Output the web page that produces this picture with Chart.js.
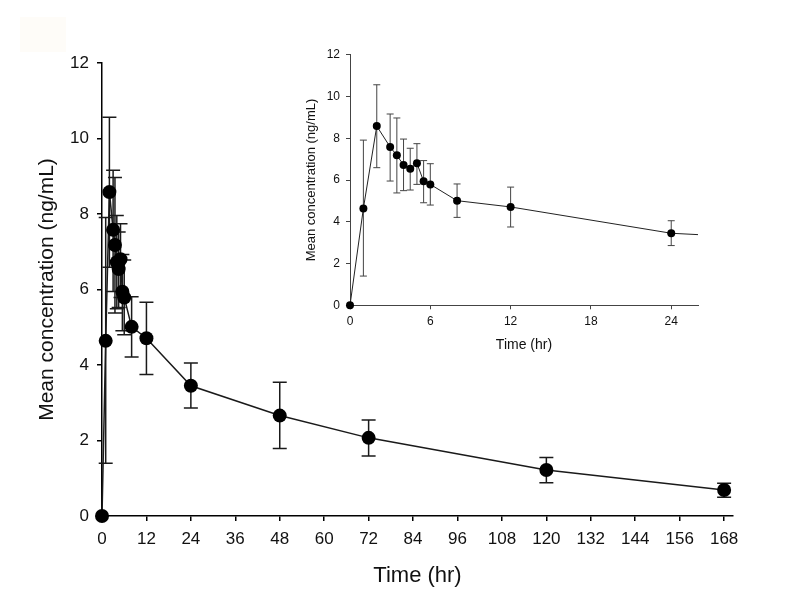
<!DOCTYPE html>
<html>
<head>
<meta charset="utf-8">
<script src="https://cdn.jsdelivr.net/npm/chart.js@4"></script>
<style>
    body { margin: 0; background: #fff; }
    #wrap { position: relative; width: 798px; height: 606px; overflow: hidden; }
    #mancha { position: absolute; left: 20px; top: 17px; width: 46px; height: 35px; background: #fefcf8; }
    #grafico_principal { position: absolute; left: 0; top: 0; }
    #grafico_inset { position: absolute; left: 290px; top: 40px; }
</style>
</head>
<body>
<div id="wrap">
    <div id="mancha"></div>
    <canvas id="grafico_principal" width="798" height="606"></canvas>
    <canvas id="grafico_inset" width="420" height="320"></canvas>
</div>
<script>
const tempos = [0, 1, 2, 3, 3.5, 4, 4.5, 5, 5.5, 6, 8, 12, 24, 48, 72, 120, 168]
const media = [0, 4.64, 8.58, 7.58, 7.18, 6.72, 6.54, 6.80, 5.94, 5.79, 5.01, 4.71, 3.45, 2.66, 2.07, 1.22, 0.69]
const superior = [0, 7.91, 10.56, 9.16, 8.97, 7.96, 7.52, 7.74, 6.93, 6.78, 5.81, 5.66, 4.05, 3.54, 2.54, 1.55, 0.87]
const inferior = [0, 1.40, 6.59, 5.95, 5.38, 5.49, 5.52, 5.79, 4.91, 4.80, 4.21, 3.75, 2.86, 1.79, 1.59, 0.88, 0.50]

const tituloX = 'Time (hr)'
const tituloY = 'Mean concentration (ng/mL)'
const fonte = "'Liberation Sans', Arial, sans-serif"

const pontos = tempos.map((t, i) => ({ x: t, y: media[i] }))

const barrasErro = {
    id: 'barrasErro',
    beforeDatasetsDraw(chart, args, opts) {
        const { ctx, scales: { x, y } } = chart
        ctx.save()
        ctx.strokeStyle = opts.color
        ctx.lineWidth = opts.width
        tempos.forEach((t, i) => {
            if (t > x.max || superior[i] === inferior[i]) return
            const px = x.getPixelForValue(t)
            const yTopo = y.getPixelForValue(superior[i])
            const yBase = y.getPixelForValue(inferior[i])
            ctx.beginPath()
            ctx.moveTo(px, yTopo)
            ctx.lineTo(px, yBase)
            ctx.moveTo(px - opts.cap, yTopo)
            ctx.lineTo(px + opts.cap, yTopo)
            ctx.moveTo(px - opts.cap, yBase)
            ctx.lineTo(px + opts.cap, yBase)
            ctx.stroke()
        })
        ctx.restore()
    }
}

function eixos(cfg) {
    return {
        x: {
            type: 'linear',
            min: 0,
            max: cfg.xMax,
            afterFit: s => { s.height = cfg.alturaX },
            border: { color: cfg.corEixo, width: cfg.borda },
            grid: { drawOnChartArea: false, color: cfg.corEixo, tickLength: cfg.tick, lineWidth: cfg.borda },
            ticks: {
                stepSize: cfg.passoX,
                includeBounds: false,
                autoSkip: false,
                maxRotation: 0,
                color: '#111',
                padding: cfg.padX,
                font: { family: fonte, size: cfg.tamTick }
            },
            title: {
                display: true,
                text: tituloX,
                color: '#111',
                padding: { top: 0, bottom: cfg.titXpad },
                font: { family: fonte, size: cfg.tamTitulo }
            }
        },
        y: {
            min: 0,
            max: 12,
            afterFit: s => { s.width = cfg.larguraY },
            border: { color: cfg.corEixo, width: cfg.borda },
            grid: { drawOnChartArea: false, color: cfg.corEixo, tickLength: cfg.tick, lineWidth: cfg.borda },
            ticks: {
                stepSize: 2,
                color: '#111',
                padding: cfg.padY,
                font: { family: fonte, size: cfg.tamTick }
            },
            title: {
                display: true,
                text: tituloY,
                color: '#111',
                padding: { top: cfg.titYpad, bottom: 0 },
                font: { family: fonte, size: cfg.tamTituloY }
            }
        }
    }
}

let graficoPrincipal = new Chart(
    document.getElementById('grafico_principal'),
    {
        type: 'line',
        data: {
            datasets: [{
                data: pontos,
                borderColor: '#1a1a1a',
                borderWidth: 1.5,
                backgroundColor: '#000',
                pointRadius: 7,
                pointBorderWidth: 0,
                tension: 0,
                clip: false
            }]
        },
        options: {
            responsive: false,
            animation: false,
            events: [],
            layout: { padding: { top: 63, right: 65, left: 0, bottom: 0 } },
            scales: eixos({
                xMax: 170.4, passoX: 12, alturaX: 90, larguraY: 102, borda: 1.5, tick: 5, corEixo: '#000',
                padX: 8, padY: 8, tamTick: 17, tamTitulo: 22, tamTituloY: 21, titXpad: 17, titYpad: 35
            }),
            plugins: {
                legend: { display: false },
                tooltip: { enabled: false },
                barrasErro: { color: '#1a1a1a', width: 1.5, cap: 7 }
            }
        },
        plugins: [barrasErro]
    }
)

let graficoInset = new Chart(
    document.getElementById('grafico_inset'),
    {
        type: 'line',
        data: {
            datasets: [{
                data: pontos,
                borderColor: '#222',
                borderWidth: 1,
                backgroundColor: '#000',
                pointRadius: 4,
                pointBorderWidth: 0,
                tension: 0,
                clip: { left: 6, right: 0, top: 6, bottom: 6 }
            }]
        },
        options: {
            responsive: false,
            animation: false,
            events: [],
            layout: { padding: { top: 14.7, right: 12, left: 0, bottom: 0 } },
            scales: eixos({
                xMax: 26, passoX: 6, alturaX: 54.7, larguraY: 60, borda: 1, tick: 4, corEixo: '#444',
                padX: 5, padY: 6, tamTick: 12, tamTitulo: 14, tamTituloY: 13, titXpad: 6, titYpad: 14
            }),
            plugins: {
                legend: { display: false },
                tooltip: { enabled: false },
                barrasErro: { color: '#444', width: 1, cap: 3.5 }
            }
        },
        plugins: [barrasErro]
    }
)
</script>
</body>
</html>
